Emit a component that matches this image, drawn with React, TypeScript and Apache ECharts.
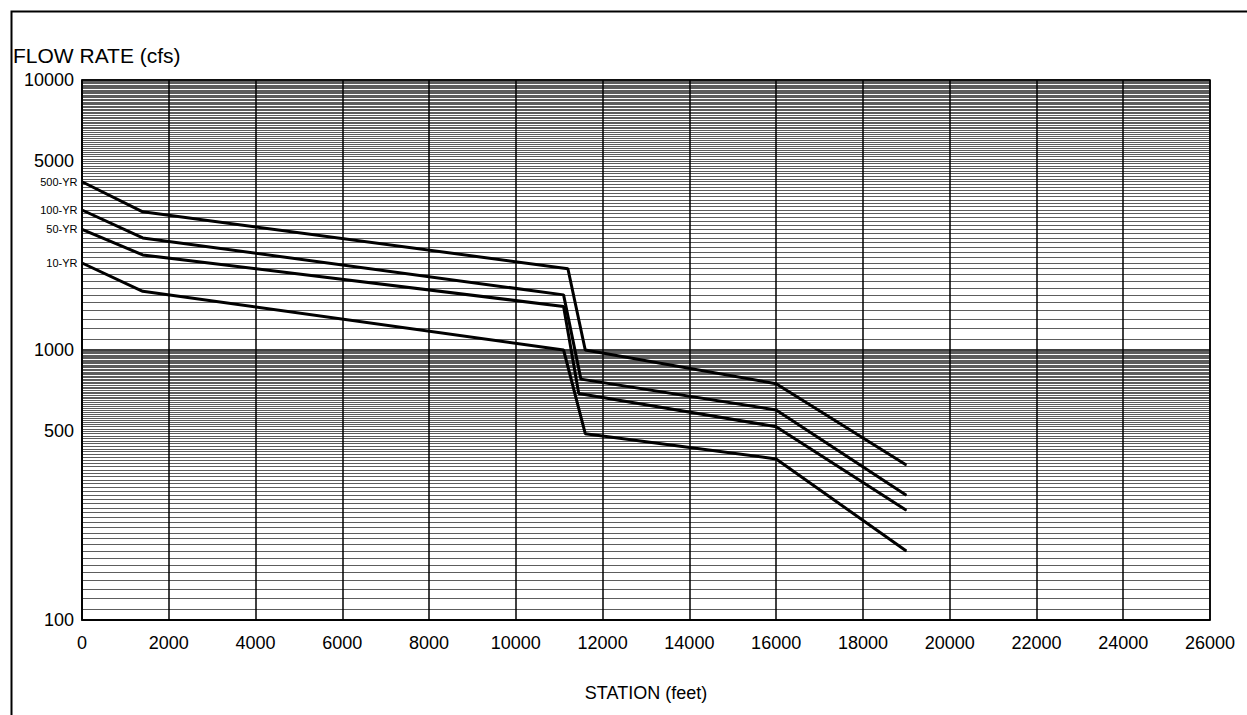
import React, { useEffect, useRef } from "react";
import * as echarts from "echarts";

const seriesNames = ["500-YR", "100-YR", "50-YR", "10-YR"];
const stations500 = [0, 1400, 11200, 11600, 16000, 19000];
const flow500 = [4200, 3250, 2000, 1000, 750, 375];
const stations100 = [0, 1400, 11100, 11500, 16000, 19000];
const flow100 = [3300, 2600, 1600, 780, 600, 290];
const stations50 = [0, 1400, 11100, 11450, 16000, 19000];
const flow50 = [2800, 2250, 1450, 690, 520, 255];
const stations10 = [0, 1400, 11100, 11600, 16000, 19000];
const flow10 = [2100, 1650, 1000, 490, 395, 180];
const yLabelValues = [100, 500, 1000, 5000, 10000];

const FONT = "Liberation Sans";

export default function App() {
  const ref = useRef<HTMLDivElement>(null);
  useEffect(() => {
    const chart = echarts.init(ref.current as HTMLDivElement, null, { renderer: "svg" });
    const allStations = [stations500, stations100, stations50, stations10];
    const allFlows = [flow500, flow100, flow50, flow10];
    const series = seriesNames.map((name, i) => ({
      type: "line",
      name,
      clip: false,
      symbol: "circle",
      symbolSize: 1,
      itemStyle: { color: "#000" },
      lineStyle: { color: "#000", width: 3 },
      z: 5,
      data: allStations[i].map((s, j) =>
        j === 0
          ? {
              value: [s, allFlows[i][j]],
              label: {
                show: true,
                position: "left",
                distance: 4,
                formatter: name,
                fontFamily: FONT,
                fontSize: 11,
                color: "#000",
              },
            }
          : { value: [s, allFlows[i][j]] }
      ),
    }));
    chart.setOption({
      animation: false,
      backgroundColor: "#fff",
      title: {
        text: "FLOW RATE (cfs)",
        left: 13,
        top: 45,
        padding: 0,
        textStyle: { fontFamily: FONT, fontSize: 21, fontWeight: "normal", color: "#000" },
      },
      graphic: [
        {
          type: "rect",
          left: 9,
          top: 9,
          shape: { width: 1270, height: 730 },
          style: { fill: "none", stroke: "#000", lineWidth: 2 },
          silent: true,
        },
      ],
      grid: { left: 82, right: 37, top: 80, bottom: 95, show: true, borderColor: "#000", borderWidth: 1.5 },
      xAxis: {
        type: "value",
        min: 0,
        max: 26000,
        interval: 2000,
        name: "STATION (feet)",
        nameLocation: "middle",
        nameGap: 64,
        nameTextStyle: { fontFamily: FONT, fontSize: 18, color: "#000" },
        axisLine: { show: true, lineStyle: { color: "#000", width: 1.5 } },
        axisTick: { show: false },
        axisLabel: {
          fontFamily: FONT,
          fontSize: 18,
          color: "#000",
          margin: 14,
          formatter: (v: number) => String(v),
        },
        splitLine: { show: true, lineStyle: { color: "#000", width: 1.5 } },
      },
      yAxis: {
        type: "log",
        logBase: 10,
        min: 100,
        max: 10000,
        axisLine: { show: true, lineStyle: { color: "#000", width: 1.5 } },
        axisTick: { show: false },
        axisLabel: {
          fontFamily: FONT,
          fontSize: 18,
          color: "#000",
          margin: 8,
          customValues: yLabelValues,
          formatter: (v: number) => String(Math.round(v)),
        },
        splitLine: { show: true, lineStyle: { color: "#000", width: 1.5 } },
        minorTick: { show: false, splitNumber: 90 },
        minorSplitLine: { show: true, lineStyle: { color: "#333", width: 0.8 } },
      },
      series,
    });
    return () => chart.dispose();
  }, []);
  return (
    <div
      ref={ref}
      style={{ position: "fixed", left: 0, top: 0, width: 1247, height: 715, background: "#fff" }}
    />
  );
}
